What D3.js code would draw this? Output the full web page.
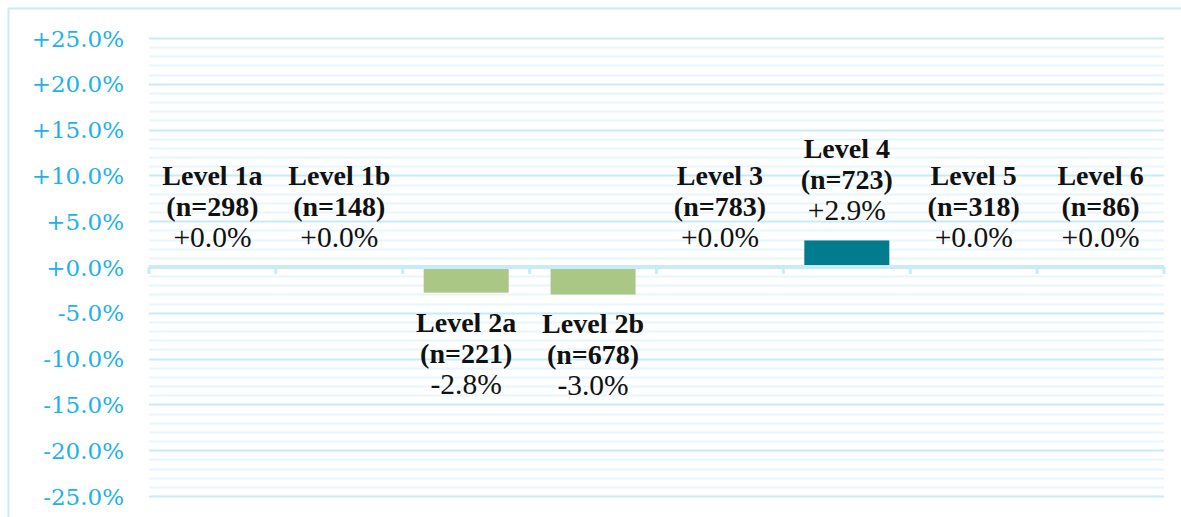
<!DOCTYPE html>
<html><head><meta charset="utf-8">
<script src="https://cdn.jsdelivr.net/npm/d3@7"></script>
<style>body{margin:0;background:#fff;}svg{display:block;}</style>
</head><body>
<svg id="c" width="1181" height="517"></svg>
<script>
const categories = ["Level 1a","Level 1b","Level 2a","Level 2b","Level 3","Level 4","Level 5","Level 6"];
const counts = [298,148,221,678,783,723,318,86];
const values = [0.0,0.0,-2.8,-3.0,0.0,2.9,0.0,0.0];
const tickValues = [25,20,15,10,5,0,-5,-10,-15,-20,-25];

(function(){
const svg = d3.select("#c");
const W = 1181, H = 517;
const pl = 149, pr = 1164, pt = 38, pb = 496;
const tickFont = "'DejaVu Serif', 'Liberation Serif', serif";
const labelFont = "'Liberation Serif', 'DejaVu Serif', serif";

// frame
svg.append("rect").attr("x",8.5).attr("y",8.5).attr("width",W+10).attr("height",H+10)
  .attr("fill","none").attr("stroke","#c8ecfa").attr("stroke-width",2);

const x = d3.scaleBand().domain(categories).range([pl,pr]).paddingInner(0.33).paddingOuter(0.165);
const xb = d3.scaleBand().domain(categories).range([pl,pr]);
const y = d3.scaleLinear().domain([-25,25]).range([pb,pt]);

// minor gridlines
const minor = d3.range(-25,25.01,1).filter(v=>v%5!==0);
svg.append("g").selectAll("line").data(minor).join("line")
  .attr("x1",pl).attr("x2",pr).attr("y1",d=>Math.round(y(d))+0.5).attr("y2",d=>Math.round(y(d))+0.5)
  .attr("stroke","#e8f6fd").attr("stroke-width",2);
// major gridlines
svg.append("g").selectAll("line").data(tickValues.filter(v=>v!==0)).join("line")
  .attr("x1",pl).attr("x2",pr).attr("y1",d=>Math.round(y(d))+0.5).attr("y2",d=>Math.round(y(d))+0.5)
  .attr("stroke","#c8ebfa").attr("stroke-width",2);

// y tick labels
const fmtTick = v => (v<0?"-":"+") + Math.abs(v).toFixed(1) + "%";
const yAxis = d3.axisLeft(y).tickValues(tickValues).tickFormat(fmtTick).tickSize(0).tickPadding(0);
const ga = svg.append("g").attr("transform",`translate(124,0)`).call(yAxis);
ga.select(".domain").remove();
ga.selectAll("text").attr("font-family",tickFont).attr("font-size",23).attr("fill","#1eb1ec").attr("dy","0.35em");

// bars
svg.append("g").selectAll("rect").data(values).join("rect")
  .attr("x",(d,i)=>x(categories[i]))
  .attr("width",x.bandwidth())
  .attr("y",d=>y(Math.max(0,d)))
  .attr("height",d=>Math.abs(y(d)-y(0)))
  .attr("fill",d=>d<0?"#abc785":"#007c8e");

// zero axis with ticks
const zy = Math.round(y(0));
svg.append("line").attr("x1",pl).attr("x2",pr).attr("y1",zy).attr("y2",zy)
  .attr("stroke","#c8ebfa").attr("stroke-width",4);
const bounds = categories.map(c=>xb(c)).concat([pr]);
svg.append("g").selectAll("line").data(bounds).join("line")
  .attr("x1",d=>d).attr("x2",d=>d).attr("y1",zy).attr("y2",zy+7)
  .attr("stroke","#c8ebfa").attr("stroke-width",3);

// labels
const fmtVal = v => (v<0?"-":"+") + Math.abs(v).toFixed(1) + "%";
const lh = 31;
const lg = svg.append("g").attr("font-family",labelFont).attr("fill","#111").attr("text-anchor","middle");
values.forEach((v,i)=>{
  const cx = x(categories[i]) + x.bandwidth()/2;
  const lines = [categories[i], `(n=${counts[i]})`, fmtVal(v)];
  let baselines;
  if (v < 0) {
    const b0 = y(v) + 39;
    baselines = [b0, b0+lh, b0+2*lh];
  } else {
    const b2 = y(v) - 20;
    baselines = [b2-2*lh, b2-lh, b2];
  }
  lines.forEach((t,k)=>{
    lg.append("text").attr("x",cx).attr("y",baselines[k]).text(t)
      .attr("font-size",k<2?28:29.5)
      .attr("font-weight",k<2?"bold":"normal");
  });
});
})();
</script>
</body></html>
